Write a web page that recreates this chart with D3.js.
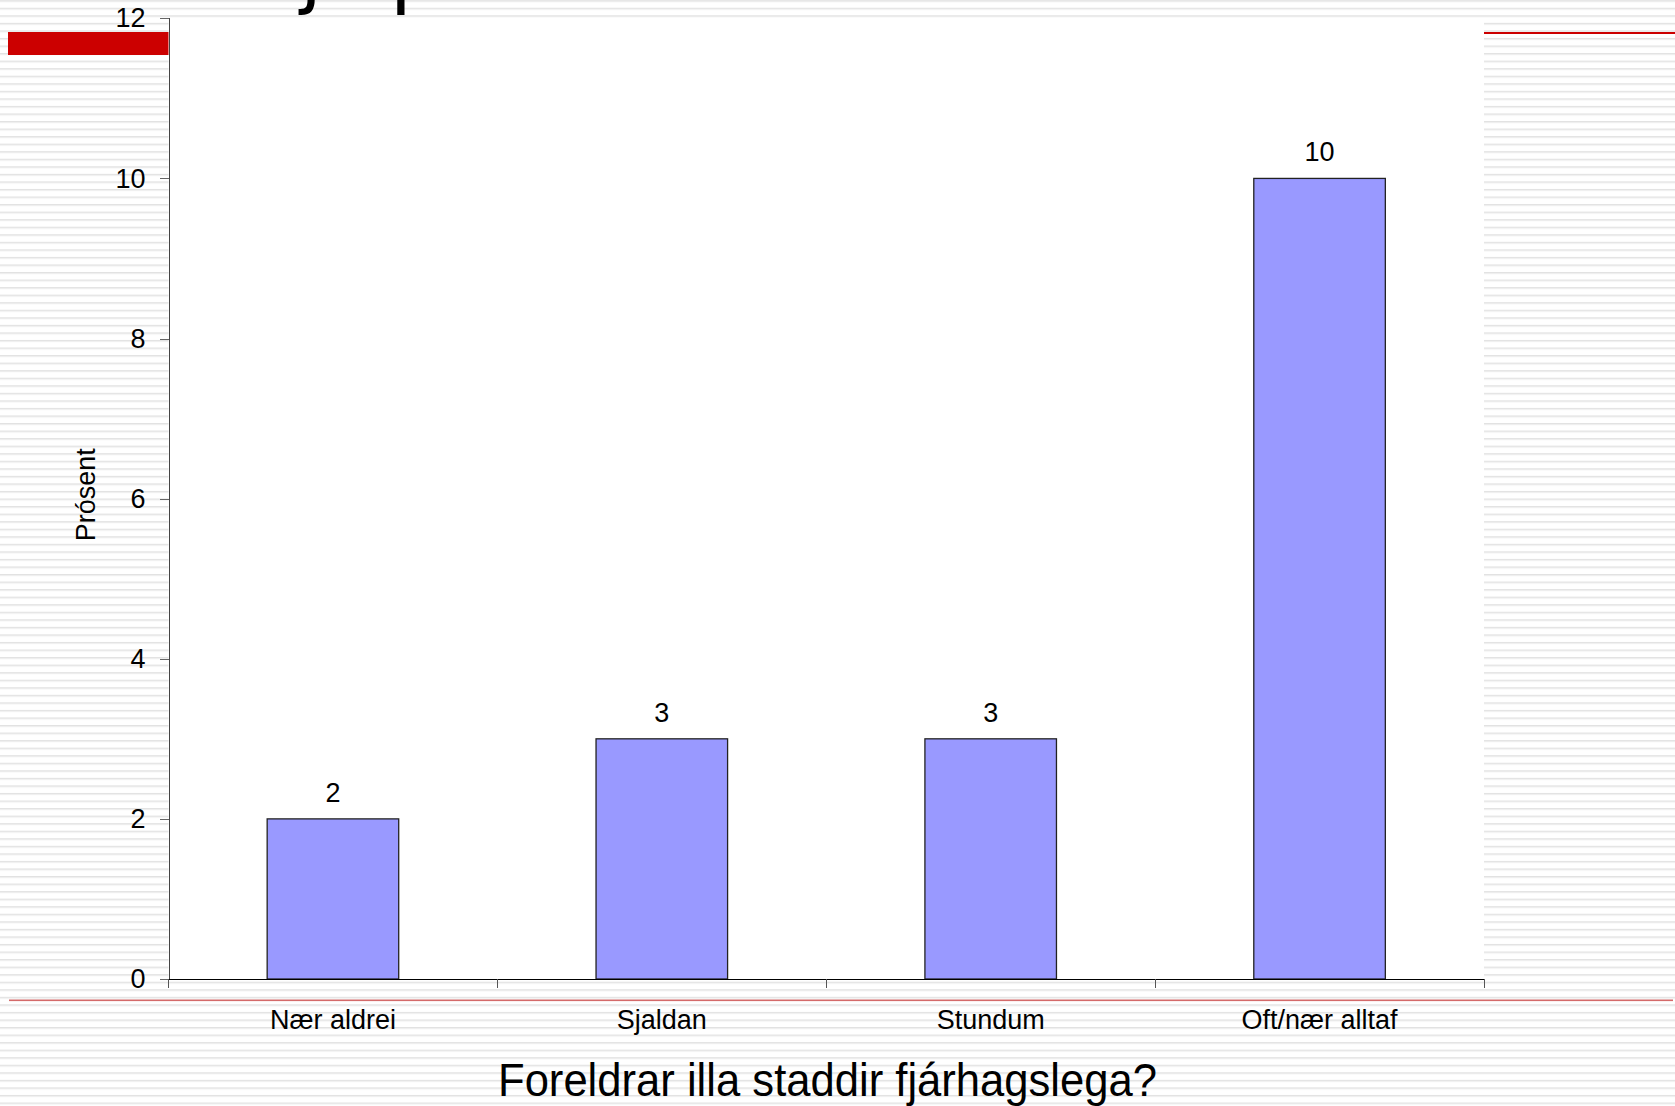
<!DOCTYPE html>
<html>
<head>
<meta charset="utf-8">
<script src="https://cdn.jsdelivr.net/npm/d3@7"></script>
<style>
  body { margin: 0; background: #fff; }
  svg text { font-family: "Liberation Sans", Arial, sans-serif; fill: #000; }
  .axis path, .axis line { shape-rendering: crispEdges; }
</style>
</head>
<body>
<svg id="chart" width="1675" height="1106"></svg>
<script>
// data
var categories = ["Nær aldrei", "Sjaldan", "Stundum", "Oft/nær alltaf"];
var values = [2, 3, 3, 10];
var yTicks = [0, 2, 4, 6, 8, 10, 12];
var yLabel = "Prósent";
var xTitle = "Foreldrar illa staddir fjárhagslega?";

var svg = d3.select("#chart"),
    W = +svg.attr("width"),
    H = +svg.attr("height");

// striped slide background
var defs = svg.append("defs");
var pat = defs.append("pattern")
    .attr("id", "stripes")
    .attr("patternUnits", "userSpaceOnUse")
    .attr("width", 20).attr("height", 7.55)
    .attr("y", 0.2);
pat.append("rect").attr("width", 20).attr("height", 7.55).attr("fill", "#fff");
pat.append("rect").attr("y", 0).attr("width", 20).attr("height", 1).attr("fill", "#e2e2e2");
pat.append("rect").attr("y", 1).attr("width", 20).attr("height", 1).attr("fill", "#eeeeee");
svg.append("rect").attr("width", W).attr("height", H).attr("fill", "url(#stripes)");

// cut-off slide title (only descenders show)
svg.append("text").attr("x", 300).attr("y", -2.5)
    .style("font-family", "DejaVu Sans").style("font-size", "80px").text("j");
svg.append("text").attr("x", 390).attr("y", -2.5)
    .style("font-family", "DejaVu Sans").style("font-size", "80px").text("p");

// red slide decorations
svg.append("rect").attr("x", 8).attr("y", 32).attr("width", 161).attr("height", 23).attr("fill", "#cc0000");
svg.append("rect").attr("x", 1484).attr("y", 32).attr("width", W - 1484).attr("height", 2).attr("fill", "#cc0000");
svg.append("rect").attr("x", 9).attr("y", 999.5).attr("width", W - 11).attr("height", 1.6).attr("fill", "#d46a6a");

var margin = {top: 18.3, left: 168.5, right: W - 1484, bottom: H - 979},
    width = W - margin.left - margin.right,
    height = H - margin.top - margin.bottom;

var g = svg.append("g")
    .attr("transform", "translate(" + margin.left + "," + margin.top + ")");

// white plot area
g.append("rect").attr("width", width).attr("height", height).attr("fill", "#fff");

var x = d3.scaleBand().domain(categories).range([0, width]).padding(0),
    y = d3.scaleLinear().domain([0, 12]).range([height, 0]);

var barW = x.bandwidth() * 0.4;

g.selectAll(".bar")
    .data(values)
  .enter().append("rect")
    .attr("class", "bar")
    .attr("x", function(d, i) { return x(categories[i]) + (x.bandwidth() - barW) / 2; })
    .attr("y", function(d) { return y(d); })
    .attr("width", barW)
    .attr("height", function(d) { return height - y(d); })
    .attr("fill", "#9999ff")
    .attr("stroke", "#222")
    .attr("stroke-width", 1.3);

g.selectAll(".val")
    .data(values)
  .enter().append("text")
    .attr("class", "val")
    .attr("x", function(d, i) { return x(categories[i]) + x.bandwidth() / 2; })
    .attr("y", function(d) { return y(d) - 17; })
    .attr("text-anchor", "middle")
    .style("font-size", "27px")
    .text(function(d) { return d; });

// y axis
var yAxis = g.append("g")
    .attr("class", "axis")
    .call(d3.axisLeft(y).tickValues(yTicks).tickSize(9).tickPadding(14));
yAxis.select(".domain").attr("stroke", "#444");
yAxis.selectAll(".tick line").attr("stroke", "#666");
yAxis.selectAll(".tick text").style("font-size", "27px")
    .style("font-family", "'Liberation Sans', Arial, sans-serif").attr("fill", "#000");

// x axis: line, boundary ticks, centred labels
var xAxis = g.append("g")
    .attr("class", "axis")
    .attr("transform", "translate(0," + height + ")")
    .call(d3.axisBottom(x).tickSize(0).tickPadding(50));
xAxis.select(".domain").attr("stroke", "#000").attr("stroke-width", 1.3);
xAxis.selectAll(".tick text").style("font-size", "27px")
    .style("font-family", "'Liberation Sans', Arial, sans-serif").attr("fill", "#000")
    .attr("dy", 0).attr("y", 50);

var bounds = categories.map(function(c) { return x(c); }).concat([x.range()[1]]);
xAxis.selectAll(".bound")
    .data(bounds)
  .enter().append("line")
    .attr("class", "bound")
    .attr("x1", function(d) { return d; }).attr("x2", function(d) { return d; })
    .attr("y1", 0).attr("y2", 9)
    .attr("stroke", "#555");

// axis titles
svg.append("text")
    .attr("transform", "translate(95," + (margin.top + y(6.05)) + ") rotate(-90)")
    .attr("text-anchor", "middle")
    .style("font-size", "27px")
    .text(yLabel);

svg.append("text")
    .attr("x", 498).attr("y", 1096)
    .attr("textLength", 659).attr("lengthAdjust", "spacingAndGlyphs")
    .style("font-size", "46px")
    .text(xTitle);
</script>
</body>
</html>
